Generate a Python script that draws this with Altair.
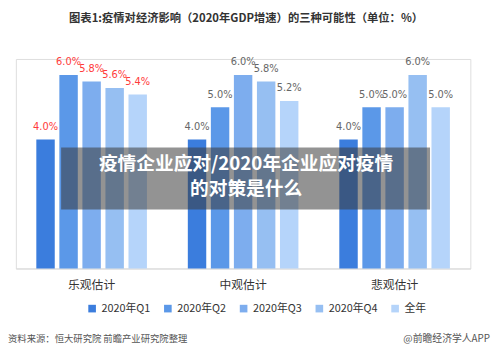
import altair as alt
import pandas as pd

scenarios = ["乐观估计", "中观估计", "悲观估计"]
periods = ["2020年Q1", "2020年Q2", "2020年Q3", "2020年Q4", "全年"]
optimistic = [4.0, 6.0, 5.8, 5.6, 5.4]
neutral = [4.0, 5.0, 6.0, 5.8, 5.2]
pessimistic = [4.0, 5.0, 5.0, 6.0, 5.0]
colors = ["#3b7ddd", "#5b98e8", "#7dadee", "#96bff2", "#b5d4fa"]

title_text = "图表1:疫情对经济影响（2020年GDP增速）的三种可能性（单位：%）"
source_text = "资料来源：恒大研究院 前瞻产业研究院整理"
credit_text = "@前瞻经济学人APP"
banner_lines = ["疫情企业应对/2020年企业应对疫情", "的对策是什么"]

rows = []
for s, vals in zip(scenarios, [optimistic, neutral, pessimistic]):
    for p, v in zip(periods, vals):
        rows.append({"scenario": s, "period": p, "value": v, "label": f"{v:.1f}%"})
df = pd.DataFrame(rows)

FONT = "Noto Sans CJK SC"

x = alt.X("scenario:N", sort=scenarios,
          scale=alt.Scale(paddingInner=0.27, paddingOuter=0.135),
          axis=alt.Axis(title=None, labelAngle=0, ticks=False, domainColor="#d9d9d9",
                        labelFontSize=12, labelColor="#333333", labelPadding=11, labelFont=FONT))
xo = alt.XOffset("period:N", sort=periods, scale=alt.Scale(paddingInner=0.2, paddingOuter=0))
y = alt.Y("value:Q", scale=alt.Scale(domain=[0, 6.5], nice=False), axis=None)

bars = alt.Chart(df).mark_bar().encode(
    x=x, xOffset=xo, y=y,
    color=alt.Color("period:N", sort=periods,
                    scale=alt.Scale(domain=periods, range=colors),
                    legend=alt.Legend(title=None, orient="none", direction="horizontal",
                                      legendX=72, legendY=248, symbolType="square",
                                      symbolSize=60, labelFontSize=11, labelFont=FONT,
                                      labelColor="#333333", columnPadding=12,
                                      symbolStrokeWidth=0)),
)

labels = alt.Chart(df).mark_text(dy=-8, baseline="bottom", fontSize=10, font="DejaVu Sans").encode(
    x=x, xOffset=xo, y=y, text="label:N",
    color=alt.condition(alt.datum.scenario == "乐观估计", alt.value("#ff3b3b"), alt.value("#666666")),
)

one = pd.DataFrame({"k": [0]})

title = alt.Chart(one).mark_text(fontSize=11.5, fontWeight="bold", font=FONT, color="#333333").encode(
    x=alt.value(234), y=alt.value(-41), text=alt.value(title_text))
source = alt.Chart(one).mark_text(fontSize=9.5, font=FONT, color="#555555", align="left").encode(
    x=alt.value(-8), y=alt.value(285), text=alt.value(source_text))
credit = alt.Chart(one).mark_text(fontSize=10, font=FONT, color="#555555", align="right").encode(
    x=alt.value(482), y=alt.value(285), text=alt.value(credit_text))

banner = alt.Chart(one).mark_rect(color="#3a3a3a", opacity=0.55).encode(
    x=alt.value(46), x2=alt.value(421), y=alt.value(90), y2=alt.value(153))
banner_t1 = alt.Chart(one).mark_text(fontSize=19, fontWeight="bold", font=FONT, color="white").encode(
    x=alt.value(234), y=alt.value(107), text=alt.value(banner_lines[0]))
banner_t2 = alt.Chart(one).mark_text(fontSize=19, fontWeight="bold", font=FONT, color="white").encode(
    x=alt.value(234), y=alt.value(132), text=alt.value(banner_lines[1]))

chart = alt.layer(bars, labels, title, source, credit, banner, banner_t1, banner_t2).properties(
    width=462, height=213,
    autosize=alt.AutoSizeParams(type="none"),
    padding={"left": 8, "top": 49, "right": 22, "bottom": 80},
).configure_view(stroke=None).configure(background="white")

chart.save("out.html", embed_options={"renderer": "svg", "actions": False})
